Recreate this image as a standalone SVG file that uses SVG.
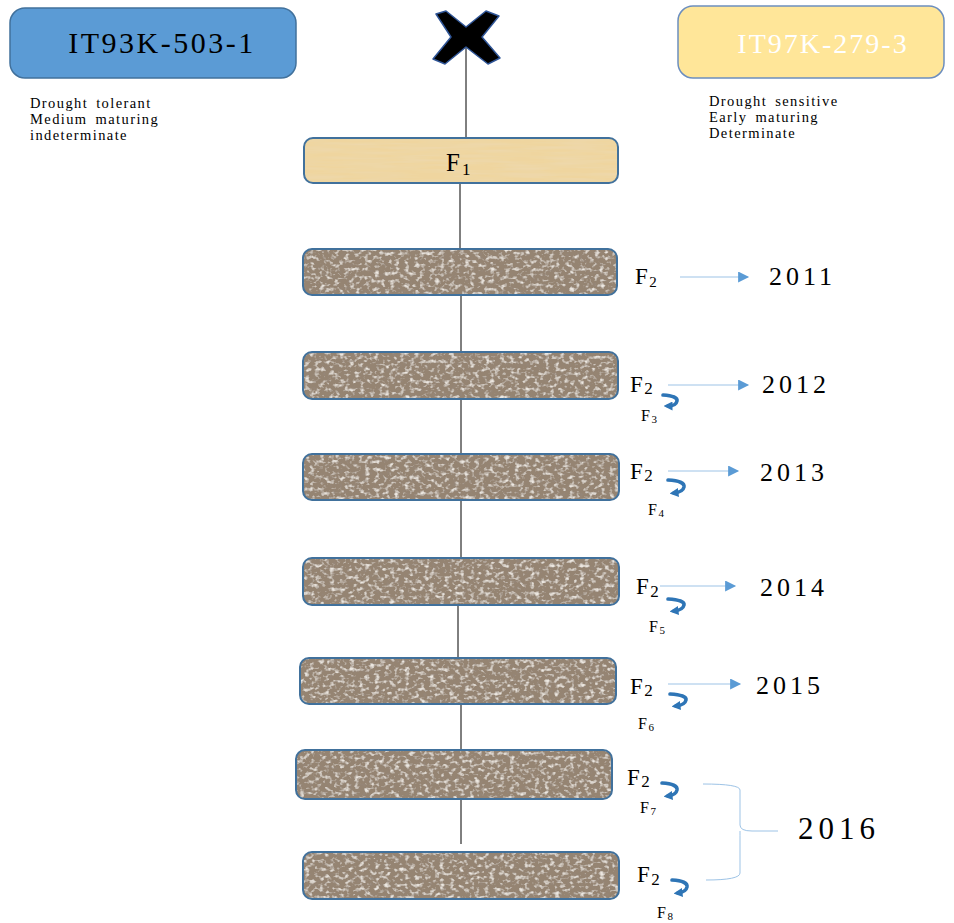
<svg xmlns="http://www.w3.org/2000/svg" width="954" height="923" viewBox="0 0 954 923">
<style>
.t{font-family:"Liberation Serif","Times New Roman",serif;fill:#000}
.d{font-size:14.5px;letter-spacing:1.4px;word-spacing:3px}
.f{font-size:23px;letter-spacing:1.5px}
.s{font-size:16px;letter-spacing:1.5px}
.y{font-size:26px;letter-spacing:4px}
.conn{stroke:#000;stroke-width:1;fill:none}
.arr{stroke:#9dc3e6;stroke-width:1;fill:none}
.loop{stroke:#2e75b6;stroke-width:3.6;fill:none;stroke-linecap:round}
.gen{stroke:#41719c;stroke-width:2}
</style>
<defs>
<filter id="granite" x="0" y="0" width="100%" height="100%">
<feFlood flood-color="#958472" result="bg"/>
<feTurbulence type="fractalNoise" baseFrequency="0.2 0.25" numOctaves="2" seed="9" result="n2"/>
<feColorMatrix in="n2" type="matrix" values="0 0 0 0 0.84  0 0 0 0 0.8  0 0 0 0 0.75  0 3.2 0 0 -1.6" result="c2"/>
<feTurbulence type="fractalNoise" baseFrequency="0.3" numOctaves="1" seed="3" result="n3"/>
<feColorMatrix in="n3" type="matrix" values="0 0 0 0 0.3  0 0 0 0 0.24  0 0 0 0 0.19  0 0 -4 0 1.7" result="c3"/>
<feMerge result="m2"><feMergeNode in="bg"/><feMergeNode in="c2"/><feMergeNode in="c3"/></feMerge>
<feComposite in="m2" in2="SourceGraphic" operator="in"/>
</filter>
<filter id="paper" x="0" y="0" width="100%" height="100%">
<feTurbulence type="fractalNoise" baseFrequency="0.02 0.3" numOctaves="2" seed="2" result="n"/>
<feColorMatrix in="n" type="matrix" values="0 0 0 0 0.85  0 0 0 0 0.7  0 0 0 0 0.45  0 0 1.2 0 -0.4" result="c"/>
<feFlood flood-color="#efd59f" result="bg"/>
<feMerge result="m"><feMergeNode in="bg"/><feMergeNode in="c"/></feMerge>
<feComposite in="m" in2="SourceGraphic" operator="in"/>
</filter>
<marker id="ah" viewBox="0 0 10 10" refX="9" refY="5" markerWidth="14" markerHeight="11" markerUnits="userSpaceOnUse" orient="auto">
<path d="M0,0 L10,5 L0,10 z" fill="#5b9bd5"/>
</marker>
<marker id="lh" viewBox="0 0 10 10" refX="5" refY="5" markerWidth="9" markerHeight="9" markerUnits="userSpaceOnUse" orient="auto">
<path d="M0,0 L10,5 L0,10 z" fill="#2e75b6"/>
</marker>
</defs>
<rect width="954" height="923" fill="#fff"/>

<g id="connectors">
<line class="conn" x1="466" y1="40" x2="466" y2="138"/>
<line class="conn" x1="460" y1="183" x2="460" y2="249"/>
<line class="conn" x1="461" y1="295" x2="461" y2="352"/>
<line class="conn" x1="461" y1="399" x2="461" y2="454"/>
<line class="conn" x1="461" y1="500" x2="461" y2="558"/>
<line class="conn" x1="458" y1="605" x2="458" y2="658"/>
<line class="conn" x1="461" y1="704" x2="461" y2="750"/>
<line class="conn" x1="461" y1="799" x2="461" y2="844"/>
<line class="arr" x1="680" y1="277" x2="748" y2="277" marker-end="url(#ah)"/>
<line class="arr" x1="668" y1="385" x2="748" y2="385" marker-end="url(#ah)"/>
<line class="arr" x1="668" y1="471" x2="738" y2="471" marker-end="url(#ah)"/>
<line class="arr" x1="660" y1="586" x2="735" y2="586" marker-end="url(#ah)"/>
<line class="arr" x1="668" y1="684" x2="740" y2="684" marker-end="url(#ah)"/>
<path class="arr" d="M703,784 Q740,784 740,790 L740,825 Q740,831 752,831 L778,831 M740,831 Q740,836 740,840 L740,873 Q740,880 706,880"/>
</g>

<g id="cross">
<path d="M436,14 L446,11 L466,27 L486,11 L499,16 L482,37 L500,58 L488,64 L466,47 L445,64 L433,59 L451,37 Z" fill="#000" stroke="#2f5597" stroke-width="1.5" stroke-linejoin="round"/>
</g>

<g id="parent1">
<rect x="10" y="8" width="286" height="70" rx="15" fill="#5b9bd5" stroke="#41719c" stroke-width="1.5"/>
<text class="t" x="162" y="53" font-size="30" letter-spacing="2.5" text-anchor="middle">IT93K-503-1</text>
<text class="t d" x="30" y="108">Drought tolerant</text>
<text class="t d" x="30" y="124">Medium maturing</text>
<text class="t d" x="30" y="140">indeterminate</text>
</g>

<g id="parent2">
<rect x="678" y="6" width="266" height="72" rx="15" fill="#ffe699" stroke="#6c8ebf" stroke-width="1.5"/>
<text class="t" x="823" y="53" font-size="28" letter-spacing="2" text-anchor="middle" style="fill:#fff">IT97K-279-3</text>
<text class="t d" x="709" y="106">Drought sensitive</text>
<text class="t d" x="709" y="122">Early maturing</text>
<text class="t d" x="709" y="138">Determinate</text>
</g>

<g id="f1">
<rect x="304" y="138" width="314" height="45" rx="9" filter="url(#paper)" fill="#000"/>
<rect x="304" y="138" width="314" height="45" rx="9" fill="none" stroke="#41719c" stroke-width="2"/>
<text class="t" x="446" y="171" font-size="25" letter-spacing="2">F<tspan font-size="17" dy="4">1</tspan></text>
</g>

<g id="g2011">
<rect x="303" y="249" width="314" height="46" rx="9" filter="url(#granite)" fill="#000"/>
<rect class="gen" x="303" y="249" width="314" height="46" rx="9" fill="none"/>
<text class="t f" x="635" y="284">F<tspan font-size="15" dy="3">2</tspan></text>
<text class="t y" x="769" y="285">2011</text>
</g>

<g id="g2012">
<rect x="303" y="352" width="315" height="47" rx="9" filter="url(#granite)" fill="#000"/>
<rect class="gen" x="303" y="352" width="315" height="47" rx="9" fill="none"/>
<text class="t f" x="630" y="392">F<tspan font-size="17" dy="2">2</tspan></text>
<path class="loop" d="M663,395 Q678,396 677,401 Q676,406 668,406" marker-end="url(#lh)"/>
<text class="t s" x="641" y="421">F<tspan font-size="11" dy="2">3</tspan></text>
<text class="t y" x="762" y="393">2012</text>
</g>

<g id="g2013">
<rect x="303" y="454" width="316" height="46" rx="9" filter="url(#granite)" fill="#000"/>
<rect class="gen" x="303" y="454" width="316" height="46" rx="9" fill="none"/>
<text class="t f" x="630" y="479">F<tspan font-size="17" dy="2">2</tspan></text>
<path class="loop" d="M668,480 Q685,481 684,487 Q683,492 674,493" marker-end="url(#lh)"/>
<text class="t s" x="648" y="515">F<tspan font-size="11" dy="2">4</tspan></text>
<text class="t y" x="760" y="481">2013</text>
</g>

<g id="g2014">
<rect x="303" y="558" width="316" height="47" rx="9" filter="url(#granite)" fill="#000"/>
<rect class="gen" x="303" y="558" width="316" height="47" rx="9" fill="none"/>
<text class="t f" x="636" y="594">F<tspan font-size="17" dy="3">2</tspan></text>
<path class="loop" d="M668,599 Q685,600 684,605 Q683,610 674,611" marker-end="url(#lh)"/>
<text class="t s" x="649" y="632">F<tspan font-size="11" dy="2">5</tspan></text>
<text class="t y" x="760" y="596">2014</text>
</g>

<g id="g2015">
<rect x="300" y="658" width="316" height="46" rx="9" filter="url(#granite)" fill="#000"/>
<rect class="gen" x="300" y="658" width="316" height="46" rx="9" fill="none"/>
<text class="t f" x="630" y="694">F<tspan font-size="17" dy="2">2</tspan></text>
<path class="loop" d="M670,694 Q687,695 686,700 Q685,705 676,706" marker-end="url(#lh)"/>
<text class="t s" x="638" y="729">F<tspan font-size="11" dy="2">6</tspan></text>
<text class="t y" x="756" y="694">2015</text>
</g>

<g id="g2016a">
<rect x="296" y="750" width="316" height="49" rx="9" filter="url(#granite)" fill="#000"/>
<rect class="gen" x="296" y="750" width="316" height="49" rx="9" fill="none"/>
<text class="t f" x="627" y="785">F<tspan font-size="17" dy="2">2</tspan></text>
<path class="loop" d="M662,783 Q678,784 677,790 Q676,795 668,796" marker-end="url(#lh)"/>
<text class="t s" x="640" y="813">F<tspan font-size="11" dy="2">7</tspan></text>
</g>

<g id="g2016b">
<rect x="303" y="852" width="316" height="47" rx="9" filter="url(#granite)" fill="#000"/>
<rect class="gen" x="303" y="852" width="316" height="47" rx="9" fill="none"/>
<text class="t f" x="637" y="882">F<tspan font-size="17" dy="3">2</tspan></text>
<path class="loop" d="M672,880 Q688,881 687,887 Q686,892 678,893" marker-end="url(#lh)"/>
<text class="t s" x="657" y="918">F<tspan font-size="11" dy="2">8</tspan></text>
</g>

<g id="y2016">
<text class="t" x="798" y="839" font-size="31" letter-spacing="5">2016</text>
</g>
</svg>
